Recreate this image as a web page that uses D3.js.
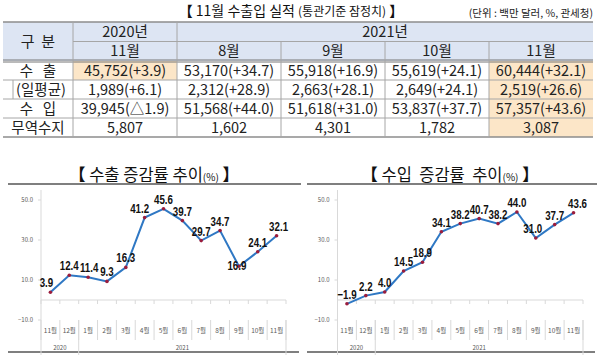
<!DOCTYPE html>
<html>
<head>
<meta charset="utf-8">
<script src="https://cdn.jsdelivr.net/npm/d3@7"></script>
<style>
body { margin: 0; background: #fff; }
text { font-family: "Noto Sans CJK KR", "Noto Sans", sans-serif; }
</style>
</head>
<body>
<div id="chart"></div>
<script>
// table data
var tableCols = ["11월", "8월", "9월", "10월", "11월"];
var tableYears = ["2020년", "2021년"];
var tableRowLabels = ["수   출", "(일평균)", "수   입", "무역수지"];
var exportVals = ["45,752(+3.9)", "53,170(+34.7)", "55,918(+16.9)", "55,619(+24.1)", "60,444(+32.1)"];
var dailyVals = ["1,989(+6.1)", "2,312(+28.9)", "2,663(+28.1)", "2,649(+24.1)", "2,519(+26.6)"];
var importVals = ["39,945(△1.9)", "51,568(+44.0)", "51,618(+31.0)", "53,837(+37.7)", "57,357(+43.6)"];
var balanceVals = ["5,807", "1,602", "4,301", "1,782", "3,087"];

// chart data
var months = ["11월", "12월", "1월", "2월", "3월", "4월", "5월", "6월", "7월", "8월", "9월", "10월", "11월"];
var yearLabels = ["2020", "2021"];
var yearSpans = [2, 11];
var exportRate = [3.9, 12.4, 11.4, 9.3, 16.3, 41.2, 45.6, 39.7, 29.7, 34.7, 16.9, 24.1, 32.1];
var importRate = [-1.9, 2.2, 4.0, 14.5, 18.9, 34.1, 38.2, 40.7, 38.2, 44.0, 31.0, 37.7, 43.6];
var yTicks = [50, 30, 10, -10];

var svg = d3.select("#chart").append("svg")
	.attr("width", 600)
	.attr("height", 363);

svg.append("rect").attr("width", 600).attr("height", 363).attr("fill", "#fff");

//----- table title
var tt = svg.append("text")
	.attr("x", 291).attr("y", 16)
	.attr("text-anchor", "middle")
	.style("font-size", "14px")
	.attr("fill", "#111");
tt.append("tspan").style("font-weight", "bold").text("【 ");
tt.append("tspan").text("11월 수출입 실적 ");
tt.append("tspan").style("font-size", "12px").text("(통관기준 잠정치)");
tt.append("tspan").style("font-weight", "bold").text(" 】");

svg.append("text")
	.attr("x", 593).attr("y", 17)
	.attr("text-anchor", "end")
	.style("font-size", "10.5px")
	.attr("fill", "#222")
	.text("(단위 : 백만 달러, %, 관세청)");

//----- table
var left = 3;
var xCol = d3.scaleBand().domain(d3.range(tableCols.length)).range([73, 593]);
var yRow = d3.scaleBand().domain(d3.range(tableRowLabels.length)).range([61, 137]);
var rows = [exportVals, dailyVals, importVals, balanceVals];
var headTop = 22, headMid = 41.5, headBot = 61;
var fs = "14.5px";

// header background
svg.append("rect")
	.attr("x", left).attr("y", headTop)
	.attr("width", 593 - left).attr("height", headBot - headTop)
	.attr("fill", "#dde5f3");

// highlight cells
svg.append("rect")
	.attr("x", xCol(0)).attr("y", yRow(0))
	.attr("width", xCol.bandwidth()).attr("height", yRow.bandwidth())
	.attr("fill", "#fce6c8");
rows.forEach(function(r, i) {
	svg.append("rect")
		.attr("x", xCol(4)).attr("y", yRow(i))
		.attr("width", xCol.bandwidth()).attr("height", yRow.bandwidth())
		.attr("fill", "#fce6c8");
});

// grid lines
svg.append("line").attr("x1", left).attr("x2", 593).attr("y1", headTop).attr("y2", headTop)
	.attr("stroke", "#8c8c8c").attr("stroke-width", 1.5);
svg.append("line").attr("x1", 73).attr("x2", 593).attr("y1", headMid).attr("y2", headMid)
	.attr("stroke", "#a6a6a6").attr("stroke-width", 1);
svg.append("line").attr("x1", left).attr("x2", 593).attr("y1", headBot - 1).attr("y2", headBot - 1)
	.attr("stroke", "#777").attr("stroke-width", 1);
svg.append("line").attr("x1", left).attr("x2", 593).attr("y1", headBot + 1).attr("y2", headBot + 1)
	.attr("stroke", "#777").attr("stroke-width", 1);
for (i = 1; i < rows.length; i++) {
	svg.append("line").attr("x1", left).attr("x2", 593).attr("y1", yRow(i)).attr("y2", yRow(i))
		.attr("stroke", "#a6a6a6").attr("stroke-width", 1);
}
svg.append("line").attr("x1", left).attr("x2", 593).attr("y1", 137).attr("y2", 137)
	.attr("stroke", "#8c8c8c").attr("stroke-width", 1.5);

// vertical lines
[73, xCol(1)].forEach(function(x) {
	svg.append("line").attr("x1", x).attr("x2", x).attr("y1", headTop).attr("y2", 137)
		.attr("stroke", "#a6a6a6");
});
[xCol(2), xCol(3), xCol(4)].forEach(function(x) {
	svg.append("line").attr("x1", x).attr("x2", x).attr("y1", headMid).attr("y2", 137)
		.attr("stroke", "#a6a6a6");
});
// small box line for (일평균)
svg.append("line").attr("x1", 13).attr("x2", 13).attr("y1", yRow(1)).attr("y2", yRow(2))
	.attr("stroke", "#a6a6a6");

// header text
svg.append("text")
	.attr("x", (left + 73) / 2).attr("y", (headTop + headBot) / 2 + 5.5)
	.attr("text-anchor", "middle")
	.style("font-size", "15px").style("white-space", "pre")
	.attr("fill", "#222")
	.text("구  분");
svg.append("text")
	.attr("x", xCol(0) + xCol.bandwidth() / 2).attr("y", (headTop + headMid) / 2 + 5.5)
	.attr("text-anchor", "middle").style("font-size", fs).attr("fill", "#222")
	.text(tableYears[0]);
svg.append("text")
	.attr("x", (xCol(1) + 593) / 2).attr("y", (headTop + headMid) / 2 + 5.5)
	.attr("text-anchor", "middle").style("font-size", fs).attr("fill", "#222")
	.text(tableYears[1]);
tableCols.forEach(function(c, i) {
	svg.append("text")
		.attr("x", xCol(i) + xCol.bandwidth() / 2).attr("y", (headMid + headBot) / 2 + 5)
		.attr("text-anchor", "middle").style("font-size", fs).attr("fill", "#222")
		.text(c);
});

// body text
tableRowLabels.forEach(function(l, i) {
	svg.append("text")
		.attr("x", (left + 73) / 2 + (i == 1 ? 3 : 0)).attr("y", yRow(i) + yRow.bandwidth() / 2 + 5)
		.attr("text-anchor", "middle")
		.style("font-size", fs).style("white-space", "pre")
		.attr("fill", "#222")
		.text(l);
	rows[i].forEach(function(v, j) {
		svg.append("text")
			.attr("x", xCol(j) + xCol.bandwidth() / 2).attr("y", yRow(i) + yRow.bandwidth() / 2 + 5)
			.attr("text-anchor", "middle")
			.style("font-size", fs)
			.attr("fill", "#222")
			.text(v);
	});
});

//----- line charts
function drawChart(cfg) {
	var x = d3.scaleBand().domain(d3.range(months.length)).range([cfg.x0, cfg.x1]);
	var y = d3.scaleLinear().domain([-10, 50]).range([320, 200]);
	var g = svg.append("g");
	var grid = "#d9d9d9";

	// title
	var t = g.append("text")
		.attr("x", cfg.titleX).attr("y", 181)
		.attr("text-anchor", "middle")
		.style("font-size", "16.5px").style("white-space", "pre")
		.attr("fill", "#111");
	t.append("tspan").style("font-weight", "bold").text("【 ");
	t.append("tspan").text(cfg.title);
	t.append("tspan").style("font-size", "10px").text("(%)");
	t.append("tspan").style("font-weight", "bold").text(" 】");

	g.append("line").attr("x1", cfg.lineL).attr("x2", cfg.lineR).attr("y1", 184).attr("y2", 184)
		.attr("stroke", "#7f7f7f").attr("stroke-width", 2);
	g.append("line").attr("x1", cfg.lineL).attr("x2", cfg.lineR - 2).attr("y1", 352).attr("y2", 352)
		.attr("stroke", "#7f7f7f").attr("stroke-width", 2);

	// y axis
	g.append("line").attr("x1", cfg.x0).attr("x2", cfg.x0).attr("y1", y(55)).attr("y2", 355)
		.attr("stroke", grid);
	yTicks.forEach(function(v) {
		g.append("line").attr("x1", cfg.x0 - 3).attr("x2", cfg.x0).attr("y1", y(v)).attr("y2", y(v))
			.attr("stroke", grid);
		g.append("text")
			.attr("x", cfg.x0 - 8).attr("y", y(v) + 2)
			.attr("text-anchor", "end")
			.style("font-size", "6px")
			.attr("fill", "#595959")
			.text(d3.format(".1f")(v));
	});

	// zero line and ticks
	g.append("line").attr("x1", cfg.x0).attr("x2", cfg.x1).attr("y1", y(0)).attr("y2", y(0))
		.attr("stroke", grid);
	d3.range(months.length + 1).forEach(function(i) {
		var xx = i < months.length ? x(i) : cfg.x1;
		g.append("line").attr("x1", xx).attr("x2", xx).attr("y1", y(0)).attr("y2", y(0) + 4)
			.attr("stroke", grid);
		g.append("line").attr("x1", xx).attr("x2", xx).attr("y1", 320).attr("y2", 340)
			.attr("stroke", grid);
	});

	// category labels
	months.forEach(function(m, i) {
		g.append("text")
			.attr("x", x(i) + x.bandwidth() / 2).attr("y", 333)
			.attr("text-anchor", "middle")
			.style("font-size", "6.5px")
			.attr("fill", "#595959")
			.text(m);
	});
	// year labels
	var start = 0;
	yearLabels.forEach(function(yl, k) {
		var xa = x(start), end = start + yearSpans[k];
		var xb = end < months.length ? x(end) : cfg.x1;
		g.append("line").attr("x1", xb).attr("x2", xb).attr("y1", 320).attr("y2", 355)
			.attr("stroke", grid);
		g.append("text")
			.attr("x", (xa + xb) / 2).attr("y", 350)
			.attr("text-anchor", "middle")
			.style("font-size", "6px")
			.attr("fill", "#595959")
			.text(yl);
		start = end;
	});

	// line
	var cx = function(d, i) { return x(i) + x.bandwidth() / 2; };
	var line = d3.line().x(cx).y(function(d) { return y(d); });
	g.append("path").datum(cfg.data)
		.attr("d", line)
		.attr("fill", "none")
		.attr("stroke", "#2f78c4")
		.attr("stroke-width", 2);
	g.selectAll("circle.pt").data(cfg.data).enter().append("circle")
		.attr("cx", cx).attr("cy", function(d) { return y(d); })
		.attr("r", 1.8)
		.attr("fill", "#9b1d3d");

	// data labels, squeezed horizontally like the condensed original
	g.selectAll("text.lbl").data(cfg.data).enter().append("text")
		.attr("class", "lbl")
		.attr("transform", function(d, i) {
			var n = cfg.nudge[i] || [0, 0];
			return "translate(" + (cx(d, i) + n[0]) + "," + (y(d) - 5 + n[1]) + ") scale(0.78,1)";
		})
		.attr("text-anchor", "middle")
		.style("font-family", "'Liberation Sans', Arial, sans-serif")
		.style("font-size", "12.5px")
		.style("font-weight", "bold")
		.attr("fill", "#111")
		.text(function(d) { return d3.format(".1f")(d); });
}

drawChart({
	x0: 41, x1: 286, titleX: 154, lineL: 8, lineR: 301,
	title: "수출 증감률 추이",
	data: exportRate,
	nudge: {0: [-4, 0], 2: [1, 0], 5: [-5, 0], 10: [-2, 9], 12: [2, 0]}
});
drawChart({
	x0: 337.5, x1: 583, titleX: 450, lineL: 307, lineR: 597,
	title: "수입  증감률  추이",
	data: importRate,
	nudge: {10: [-3, 0], 12: [4, 0]}
});
</script>
</body>
</html>
